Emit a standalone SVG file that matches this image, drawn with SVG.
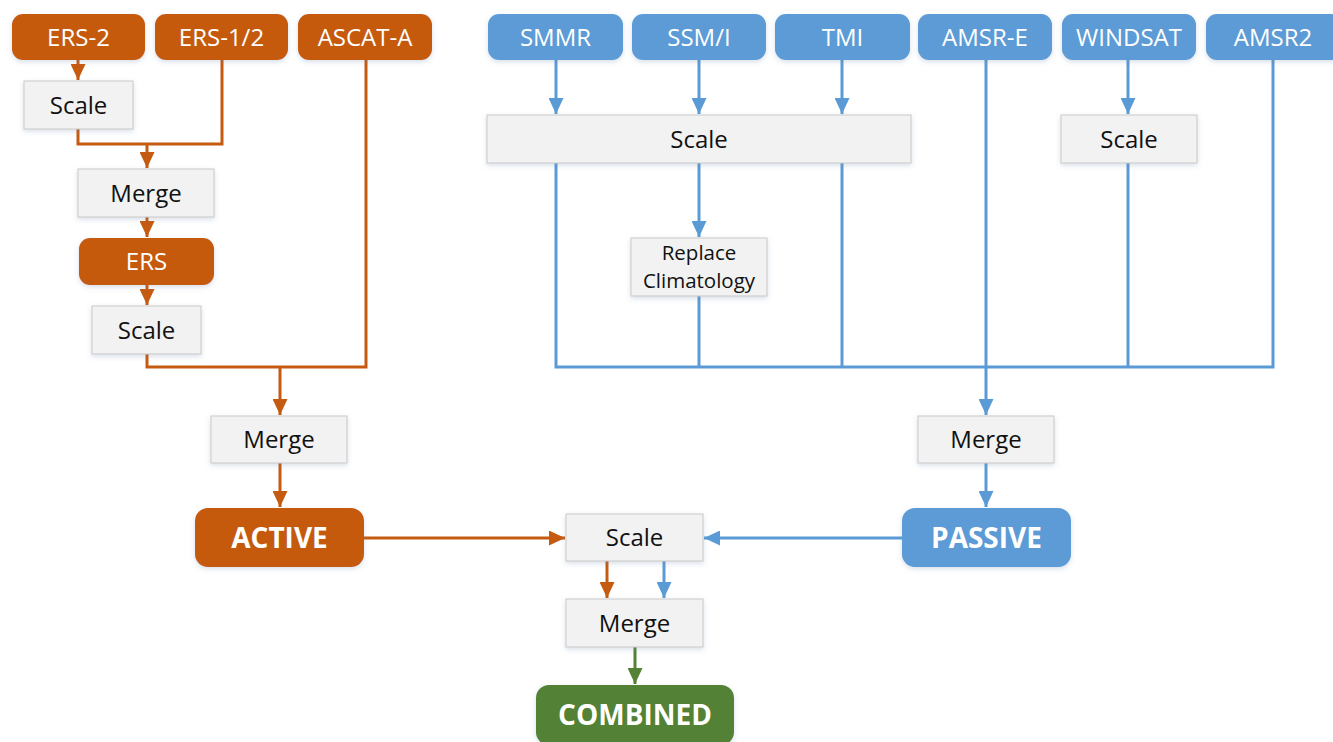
<svg xmlns="http://www.w3.org/2000/svg" width="1333" height="742" viewBox="0 0 1333 742">
<style>
.o{fill:#C55A11}
.b{fill:#5B9BD5}
.g{fill:#538135}
.box{fill:#F2F2F2;stroke:#C9C9C9;stroke-width:1}
.lt{font-family:"Open Sans","Liberation Sans",sans-serif;font-size:24px;fill:#FFFFFF;text-anchor:middle}
.bt{font-family:"Open Sans","Liberation Sans",sans-serif;font-size:28px;font-weight:bold;fill:#FFFFFF;text-anchor:middle}
.gt{font-family:"Open Sans","Liberation Sans",sans-serif;font-size:24px;fill:#111111;text-anchor:middle}
.st{font-family:"Open Sans","Liberation Sans",sans-serif;font-size:20.5px;fill:#111111;text-anchor:middle}
.co{fill:none;stroke:#C55A11;stroke-width:3}
.cb{fill:none;stroke:#5B9BD5;stroke-width:3}
.cg{fill:none;stroke:#538135;stroke-width:3}
</style>
<defs>
<filter id="sh" x="-20%" y="-20%" width="140%" height="150%">
<feDropShadow dx="0" dy="2" stdDeviation="2.5" flood-color="#5B7FA8" flood-opacity="0.25"/>
</filter>
<marker id="ao" markerUnits="userSpaceOnUse" markerWidth="16" markerHeight="15" refX="16" refY="7.5" orient="auto"><path d="M0,0 L16,7.5 L0,15 z" fill="#C55A11"/></marker>
<marker id="ab" markerUnits="userSpaceOnUse" markerWidth="16" markerHeight="15" refX="16" refY="7.5" orient="auto"><path d="M0,0 L16,7.5 L0,15 z" fill="#5B9BD5"/></marker>
<marker id="ag" markerUnits="userSpaceOnUse" markerWidth="16" markerHeight="15" refX="16" refY="7.5" orient="auto"><path d="M0,0 L16,7.5 L0,15 z" fill="#538135"/></marker>
</defs>
<rect width="1333" height="742" fill="#FFFFFF"/>

<g id="connectors">
<path class="co" d="M78,60 V80" marker-end="url(#ao)"/>
<path class="co" d="M222,60 V144 H78 V129"/>
<path class="co" d="M147,144 V168" marker-end="url(#ao)"/>
<path class="co" d="M147,217 V237" marker-end="url(#ao)"/>
<path class="co" d="M147,285 V305" marker-end="url(#ao)"/>
<path class="co" d="M147,354 V367 H366 V60"/>
<path class="co" d="M280,367 V415" marker-end="url(#ao)"/>
<path class="co" d="M280,463 V507" marker-end="url(#ao)"/>
<path class="co" d="M364,538 H565" marker-end="url(#ao)"/>
<path class="co" d="M607,561 V598" marker-end="url(#ao)"/>

<path class="cb" d="M556,60 V114" marker-end="url(#ab)"/>
<path class="cb" d="M699,60 V114" marker-end="url(#ab)"/>
<path class="cb" d="M842,60 V114" marker-end="url(#ab)"/>
<path class="cb" d="M1128,60 V114" marker-end="url(#ab)"/>
<path class="cb" d="M699,163 V237" marker-end="url(#ab)"/>
<path class="cb" d="M556,163 V367 H1273 V60"/>
<path class="cb" d="M699,296 V367"/>
<path class="cb" d="M842,163 V367"/>
<path class="cb" d="M1128,163 V367"/>
<path class="cb" d="M986,60 V415" marker-end="url(#ab)"/>
<path class="cb" d="M986,463 V507" marker-end="url(#ab)"/>
<path class="cb" d="M902,538 H704" marker-end="url(#ab)"/>
<path class="cb" d="M664,561 V598" marker-end="url(#ab)"/>

<path class="cg" d="M635,647 V684" marker-end="url(#ag)"/>
</g>

<g id="ers2"><rect class="o" x="12" y="14" width="133" height="46" rx="11" filter="url(#sh)"/><text class="lt" x="78.5" y="45.5">ERS-2</text></g>
<g id="ers12"><rect class="o" x="155" y="14" width="133" height="46" rx="11" filter="url(#sh)"/><text class="lt" x="221.5" y="45.5">ERS-1/2</text></g>
<g id="ascata"><rect class="o" x="298" y="14" width="134" height="46" rx="11" filter="url(#sh)"/><text class="lt" x="365" y="45.5">ASCAT-A</text></g>

<g id="smmr"><rect class="b" x="488" y="14" width="135" height="46" rx="11" filter="url(#sh)"/><text class="lt" x="555.5" y="45.5">SMMR</text></g>
<g id="ssmi"><rect class="b" x="632" y="14" width="134" height="46" rx="11" filter="url(#sh)"/><text class="lt" x="699" y="45.5">SSM/I</text></g>
<g id="tmi"><rect class="b" x="775" y="14" width="135" height="46" rx="11" filter="url(#sh)"/><text class="lt" x="842.5" y="45.5">TMI</text></g>
<g id="amsre"><rect class="b" x="918" y="14" width="134" height="46" rx="11" filter="url(#sh)"/><text class="lt" x="985" y="45.5">AMSR-E</text></g>
<g id="windsat"><rect class="b" x="1062" y="14" width="134" height="46" rx="11" filter="url(#sh)"/><text class="lt" x="1129" y="45.5">WINDSAT</text></g>
<g id="amsr2"><rect class="b" x="1206" y="14" width="136" height="46" rx="11" filter="url(#sh)"/><text class="lt" x="1273" y="45.5">AMSR2</text></g>

<g id="scale-ers2"><rect class="box" x="24" y="81" width="109" height="48" filter="url(#sh)"/><text class="gt" x="78.5" y="113.5">Scale</text></g>
<g id="merge-ers"><rect class="box" x="78" y="169" width="136" height="48" filter="url(#sh)"/><text class="gt" x="146" y="201.5">Merge</text></g>
<g id="ers"><rect class="o" x="79" y="238" width="135" height="47" rx="11" filter="url(#sh)"/><text class="lt" x="146.5" y="270">ERS</text></g>
<g id="scale-ers"><rect class="box" x="92" y="306" width="109" height="48" filter="url(#sh)"/><text class="gt" x="146.5" y="338.5">Scale</text></g>
<g id="merge-active"><rect class="box" x="211" y="416" width="136" height="47" filter="url(#sh)"/><text class="gt" x="279" y="448">Merge</text></g>
<g id="active"><rect class="o" x="195" y="508" width="169" height="59" rx="13" filter="url(#sh)"/><text class="bt" x="279.5" y="548">ACTIVE</text></g>

<g id="scale-passive"><rect class="box" x="487" y="115" width="424" height="48" filter="url(#sh)"/><text class="gt" x="699" y="147.5">Scale</text></g>
<g id="scale-windsat"><rect class="box" x="1061" y="115" width="136" height="48" filter="url(#sh)"/><text class="gt" x="1129" y="147.5">Scale</text></g>
<g id="replace"><rect class="box" x="631" y="238" width="136" height="58" filter="url(#sh)"/><text class="st" x="699" y="260">Replace</text><text class="st" x="699" y="288">Climatology</text></g>
<g id="merge-passive"><rect class="box" x="918" y="416" width="136" height="47" filter="url(#sh)"/><text class="gt" x="986" y="448">Merge</text></g>
<g id="passive"><rect class="b" x="902" y="508" width="169" height="59" rx="13" filter="url(#sh)"/><text class="bt" x="986.5" y="548">PASSIVE</text></g>

<g id="scale-combined"><rect class="box" x="566" y="514" width="137" height="47" filter="url(#sh)"/><text class="gt" x="634.5" y="546">Scale</text></g>
<g id="merge-combined"><rect class="box" x="566" y="599" width="137" height="48" filter="url(#sh)"/><text class="gt" x="634.5" y="631.5">Merge</text></g>
<g id="combined"><rect class="g" x="536" y="685" width="198" height="60" rx="13" filter="url(#sh)"/><text class="bt" x="635" y="725">COMBINED</text></g>
</svg>
